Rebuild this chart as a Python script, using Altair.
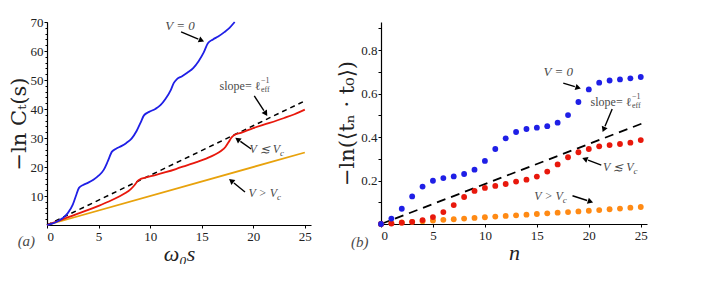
import math
import altair as alt
import pandas as pd

FONT = "Liberation Serif"
TFONT = "DejaVu Serif"

# ---------------- panel (a) data ----------------
a_blue_x = [0, 0.5, 1.0, 1.5, 2.0, 2.5, 2.8, 3.1, 3.5, 4.0, 4.5, 5.0, 5.5, 5.9, 6.3, 6.7, 7.2, 7.7, 8.2,
            8.7, 9.1, 9.4, 9.9, 10.5, 11.0, 11.5, 12.0, 12.3, 12.6, 13.1, 13.6, 14.2, 14.7, 15.2, 15.6,
            16.1, 16.6, 17.2, 17.7, 18.2]
a_blue_y = [0, 0.5, 1.2, 2.3, 4.0, 7.0, 10.0, 12.8, 13.8, 14.6, 15.6, 17.0, 19.0, 22.0, 25.3, 26.3, 27.2,
            28.3, 29.8, 32.5, 35.5, 37.8, 39.0, 40.0, 41.3, 43.5, 46.5, 49.0, 50.3, 51.3, 52.5, 54.2,
            56.5, 59.5, 62.7, 64.0, 65.0, 66.5, 68.0, 70.0]
a_red_x = [0, 1, 2, 3, 4, 5, 6, 7, 7.6, 8.1, 8.5, 8.8, 9.1, 9.6, 10.5, 11.5, 12.5, 13.5, 14.5, 15.5,
           16.3, 16.9, 17.3, 17.6, 17.9, 18.2, 18.8, 20, 21.5, 23, 24, 25]
a_red_y = [0, 1.3, 2.6, 3.9, 5.2, 6.6, 8.1, 9.8, 11.0, 12.3, 13.8, 15.2, 15.9, 16.4, 17.2, 18.2, 19.3,
           20.5, 21.7, 23.0, 24.3, 25.6, 26.9, 28.5, 30.2, 31.1, 31.8, 33.4, 35.1, 36.9, 38.2, 39.8]
a_gold_x = [0, 25]
a_gold_y = [0, 25]
a_dash_x = [0, 25]
a_dash_y = [0, 42.8]

# ---------------- panel (b) data ----------------
b_n = list(range(26))
b_blue = [0, 0.025, 0.07, 0.127, 0.172, 0.199, 0.211, 0.219, 0.23, 0.25, 0.29, 0.345, 0.394, 0.423,
          0.437, 0.443, 0.45, 0.466, 0.501, 0.561, 0.619, 0.65, 0.66, 0.665, 0.67, 0.676]
b_red = [0, 0.002, 0.006, 0.010, 0.018, 0.032, 0.055, 0.087, 0.124, 0.152, 0.166, 0.175, 0.184, 0.195,
         0.204, 0.218, 0.241, 0.274, 0.307, 0.33, 0.345, 0.357, 0.363, 0.368, 0.374, 0.386]
b_orange = [0, 0.004, 0.007, 0.010, 0.013, 0.016, 0.019, 0.022, 0.025, 0.028, 0.031, 0.034, 0.037, 0.040,
            0.043, 0.046, 0.049, 0.052, 0.055, 0.058, 0.061, 0.064, 0.068, 0.071, 0.075, 0.078]
b_dash_x = [0, 25.6]
b_dash_y = [0, 0.471]

BLUE = "#1f1fe6"
RED = "#e8180c"
GOLD = "#e8a20c"
ORANGE = "#ff8a14"
TXT = "#4a4a4a"

AW, AH = 264, 203
BW, BH = 266, 202
A_XD, A_YD = [0, 25.6], [0, 70]
B_XD, B_YD = [0, 25.6], [0, 0.929]


def ax_x(title, vals):
    return alt.Axis(values=vals, title=title, titleFontSize=22, titleFontStyle="italic", titleFont=FONT,
                    labelFont=FONT, labelFontSize=13, tickSize=3, titlePadding=0, labelPadding=2)


AX_A = ax_x("ω₀s", [0, 5, 10, 15, 20, 25])
AX_B = ax_x("n", [0, 5, 10, 15, 20, 25])


def sc(d):
    return alt.Scale(domain=d, nice=False, zero=False)


def arrows(rows, xd, yd, w, h, xax):
    sx = w / (xd[1] - xd[0])
    sy = h / (yd[1] - yd[0])
    recs = []
    for (x1, y1, x2, y2) in rows:
        dxp = (x2 - x1) * sx
        dyp = (y2 - y1) * sy
        L = math.hypot(dxp, dyp)
        ang = math.degrees(math.atan2(dxp, dyp)) % 360
        back = 3.5 / L
        recs.append(dict(x1=x1, y1=y1, x2=x1 + (x2 - x1) * (1 - 2 * back), y2=y1 + (y2 - y1) * (1 - 2 * back),
                         hx=x2 - (x2 - x1) * back, hy=y2 - (y2 - y1) * back, ang=ang))
    df = pd.DataFrame(recs)
    line = alt.Chart(df).mark_rule(color="black", strokeWidth=1.4).encode(
        x=alt.X("x1:Q", scale=sc(xd), axis=xax), y=alt.Y("y1:Q", scale=sc(yd), axis=None),
        x2="x2:Q", y2="y2:Q")
    head = alt.Chart(df).mark_point(shape="triangle-up", filled=True, color="black", size=40, opacity=1).encode(
        x=alt.X("hx:Q", scale=sc(xd), axis=xax), y=alt.Y("hy:Q", scale=sc(yd), axis=None),
        angle=alt.Angle("ang:Q", scale=None))
    return [line, head]


def texts(df, xd, yd, xax, size=12, align="center", dy=0, style="italic"):
    return alt.Chart(df).mark_text(font=FONT, fontSize=size, color=TXT, align=align, dy=dy,
                                   fontStyle=style, baseline="middle", clip=False).encode(
        x=alt.X("x:Q", scale=sc(xd), axis=xax), y=alt.Y("y:Q", scale=sc(yd), axis=None), text="t:N")


# ================= panel (a) =================
ay_main = alt.Axis(values=[10, 20, 30, 40, 50, 60, 70], title="−ln Cₜ(s)", titleFontSize=21,
                   titleFont=TFONT, labelFont=FONT, titleFontWeight="normal",
                   labelFontSize=13, tickSize=3, titlePadding=1, labelPadding=1, orient="left")
ay_minor = alt.Axis(values=list(range(2, 71, 2)), title=None, labels=False, tickSize=2, domain=False,
                    orient="left", ticks=True)

a_blue = pd.DataFrame({"x": a_blue_x, "y": a_blue_y})
a_red = pd.DataFrame({"x": a_red_x, "y": a_red_y})
a_gold = pd.DataFrame({"x": a_gold_x, "y": a_gold_y})
a_dash = pd.DataFrame({"x": a_dash_x, "y": a_dash_y})

a_layers = []
a_layers.append(alt.Chart(a_gold).mark_line(color=GOLD, strokeWidth=1.8).encode(
    x=alt.X("x:Q", scale=sc(A_XD), axis=AX_A), y=alt.Y("y:Q", scale=sc(A_YD), axis=ay_main)))
a_layers.append(alt.Chart(a_gold).mark_line(opacity=0).encode(
    x=alt.X("x:Q", scale=sc(A_XD), axis=AX_A), y=alt.Y("y:Q", scale=sc(A_YD), axis=ay_minor)))
a_layers.append(alt.Chart(a_dash).mark_line(color="black", strokeWidth=1.5, strokeDash=[5, 4]).encode(
    x=alt.X("x:Q", scale=sc(A_XD), axis=AX_A), y=alt.Y("y:Q", scale=sc(A_YD), axis=None)))
a_layers.append(alt.Chart(a_red).mark_line(color=RED, strokeWidth=1.8, interpolate="monotone").encode(
    x=alt.X("x:Q", scale=sc(A_XD), axis=AX_A), y=alt.Y("y:Q", scale=sc(A_YD), axis=None)))
a_layers.append(alt.Chart(a_blue).mark_line(color=BLUE, strokeWidth=1.8, interpolate="monotone").encode(
    x=alt.X("x:Q", scale=sc(A_XD), axis=AX_A), y=alt.Y("y:Q", scale=sc(A_YD), axis=None)))

a_layers += arrows([(13.0, 66.6, 15.3, 63.2),
                    (20.1, 44.5, 21.4, 37.4),
                    (19.8, 26.2, 18.2, 30.2),
                    (19.2, 11.4, 17.6, 16.0)], A_XD, A_YD, AW, AH, AX_A)
a_layers.append(texts(pd.DataFrame({"x": [12.9], "y": [68.6], "t": ["V = 0"]}), A_XD, A_YD, AX_A, size=13))
a_layers.append(texts(pd.DataFrame({"x": [22.6, 22.3], "y": [26.2, 11.0], "t": ["V ≲ V", "V > V"]}),
                      A_XD, A_YD, AX_A, align="right"))
a_layers.append(texts(pd.DataFrame({"x": [22.6, 22.3], "y": [26.2, 11.0], "t": ["c", "c"]}),
                      A_XD, A_YD, AX_A, size=9, align="left", dy=4))
a_layers.append(texts(pd.DataFrame({"x": [20.7], "y": [47.9], "t": ["slope= ℓ"]}), A_XD, A_YD, AX_A,
                      align="right", style="normal"))
a_layers.append(texts(pd.DataFrame({"x": [20.75], "y": [47.9], "t": ["−1"]}), A_XD, A_YD, AX_A,
                      size=8, align="left", dy=-5, style="normal"))
a_layers.append(texts(pd.DataFrame({"x": [20.75], "y": [47.9], "t": ["eff"]}), A_XD, A_YD, AX_A,
                      size=8, align="left", dy=4, style="normal"))
a_layers.append(texts(pd.DataFrame({"x": [-2.0], "y": [-5.6], "t": ["(a)"]}), A_XD, A_YD, AX_A, size=15))

panel_a = alt.layer(*a_layers).resolve_axis(y="independent").properties(width=AW, height=AH)

# ================= panel (b) =================
by_main = alt.Axis(values=[0.2, 0.4, 0.6, 0.8], format=".1f", title="−ln(⟨tₙ · t₀⟩)", titleFontSize=21,
                   titleFont=TFONT, labelFont=FONT, titleFontWeight="normal",
                   labelFontSize=13, tickSize=3, titlePadding=3, labelPadding=1, orient="left")
by_minor = alt.Axis(values=[0.1, 0.3, 0.5, 0.7, 0.9], title=None, labels=False, tickSize=3, domain=False,
                    orient="left")

bdf = pd.DataFrame({"n": b_n, "blue": b_blue, "red": b_red, "orange": b_orange})
b_dash = pd.DataFrame({"x": b_dash_x, "y": b_dash_y})

b_layers = []
b_layers.append(alt.Chart(b_dash).mark_line(color="black", strokeWidth=1.8, strokeDash=[9, 6]).encode(
    x=alt.X("x:Q", scale=sc(B_XD), axis=AX_B), y=alt.Y("y:Q", scale=sc(B_YD), axis=by_main)))
b_layers.append(alt.Chart(b_dash).mark_line(opacity=0).encode(
    x=alt.X("x:Q", scale=sc(B_XD), axis=AX_B), y=alt.Y("y:Q", scale=sc(B_YD), axis=by_minor)))
for col, colr in [("orange", ORANGE), ("red", RED), ("blue", BLUE)]:
    b_layers.append(alt.Chart(bdf).mark_circle(color=colr, size=34, opacity=1).encode(
        x=alt.X("n:Q", scale=sc(B_XD), axis=AX_B), y=alt.Y(f"{col}:Q", scale=sc(B_YD), axis=None)))
b_layers += arrows([(17.54, 0.648, 19.3, 0.622),
                    (22.25, 0.529, 21.3, 0.42),
                    (21.2, 0.271, 19.3, 0.305),
                    (18.43, 0.13, 20.48, 0.098)], B_XD, B_YD, BW, BH, AX_B)
b_layers.append(texts(pd.DataFrame({"x": [17.06], "y": [0.697], "t": ["V = 0"]}), B_XD, B_YD, AX_B, size=13))
b_layers.append(texts(pd.DataFrame({"x": [24.3, 17.5], "y": [0.26, 0.13], "t": ["V ≲ V", "V > V"]}),
                      B_XD, B_YD, AX_B, align="right"))
b_layers.append(texts(pd.DataFrame({"x": [24.3, 17.5], "y": [0.26, 0.13], "t": ["c", "c"]}),
                      B_XD, B_YD, AX_B, size=9, align="left", dy=4))
b_layers.append(texts(pd.DataFrame({"x": [24.1], "y": [0.559], "t": ["slope= ℓ"]}), B_XD, B_YD, AX_B,
                      align="right", style="normal"))
b_layers.append(texts(pd.DataFrame({"x": [24.15], "y": [0.559], "t": ["−1"]}), B_XD, B_YD, AX_B,
                      size=8, align="left", dy=-5, style="normal"))
b_layers.append(texts(pd.DataFrame({"x": [24.15], "y": [0.559], "t": ["eff"]}), B_XD, B_YD, AX_B,
                      size=8, align="left", dy=4, style="normal"))
b_layers.append(texts(pd.DataFrame({"x": [-2.05], "y": [-0.083], "t": ["(b)"]}), B_XD, B_YD, AX_B, size=15))

panel_b = alt.layer(*b_layers).resolve_axis(y="independent").properties(width=BW, height=BH)

chart = alt.hconcat(panel_a, panel_b, spacing=24).properties(
    padding={"left": 0, "top": 8, "right": 0, "bottom": 0}, background="white"
).configure_view(stroke=None).configure_axis(
    grid=False, domainColor="black", tickColor="black", labelColor="#222", titleColor="#222",
    labelFont=FONT, titleFont=FONT, titleFontWeight="normal", domainWidth=1.2
)

chart.save("out.html", embed_options={"renderer": "svg", "actions": False})
